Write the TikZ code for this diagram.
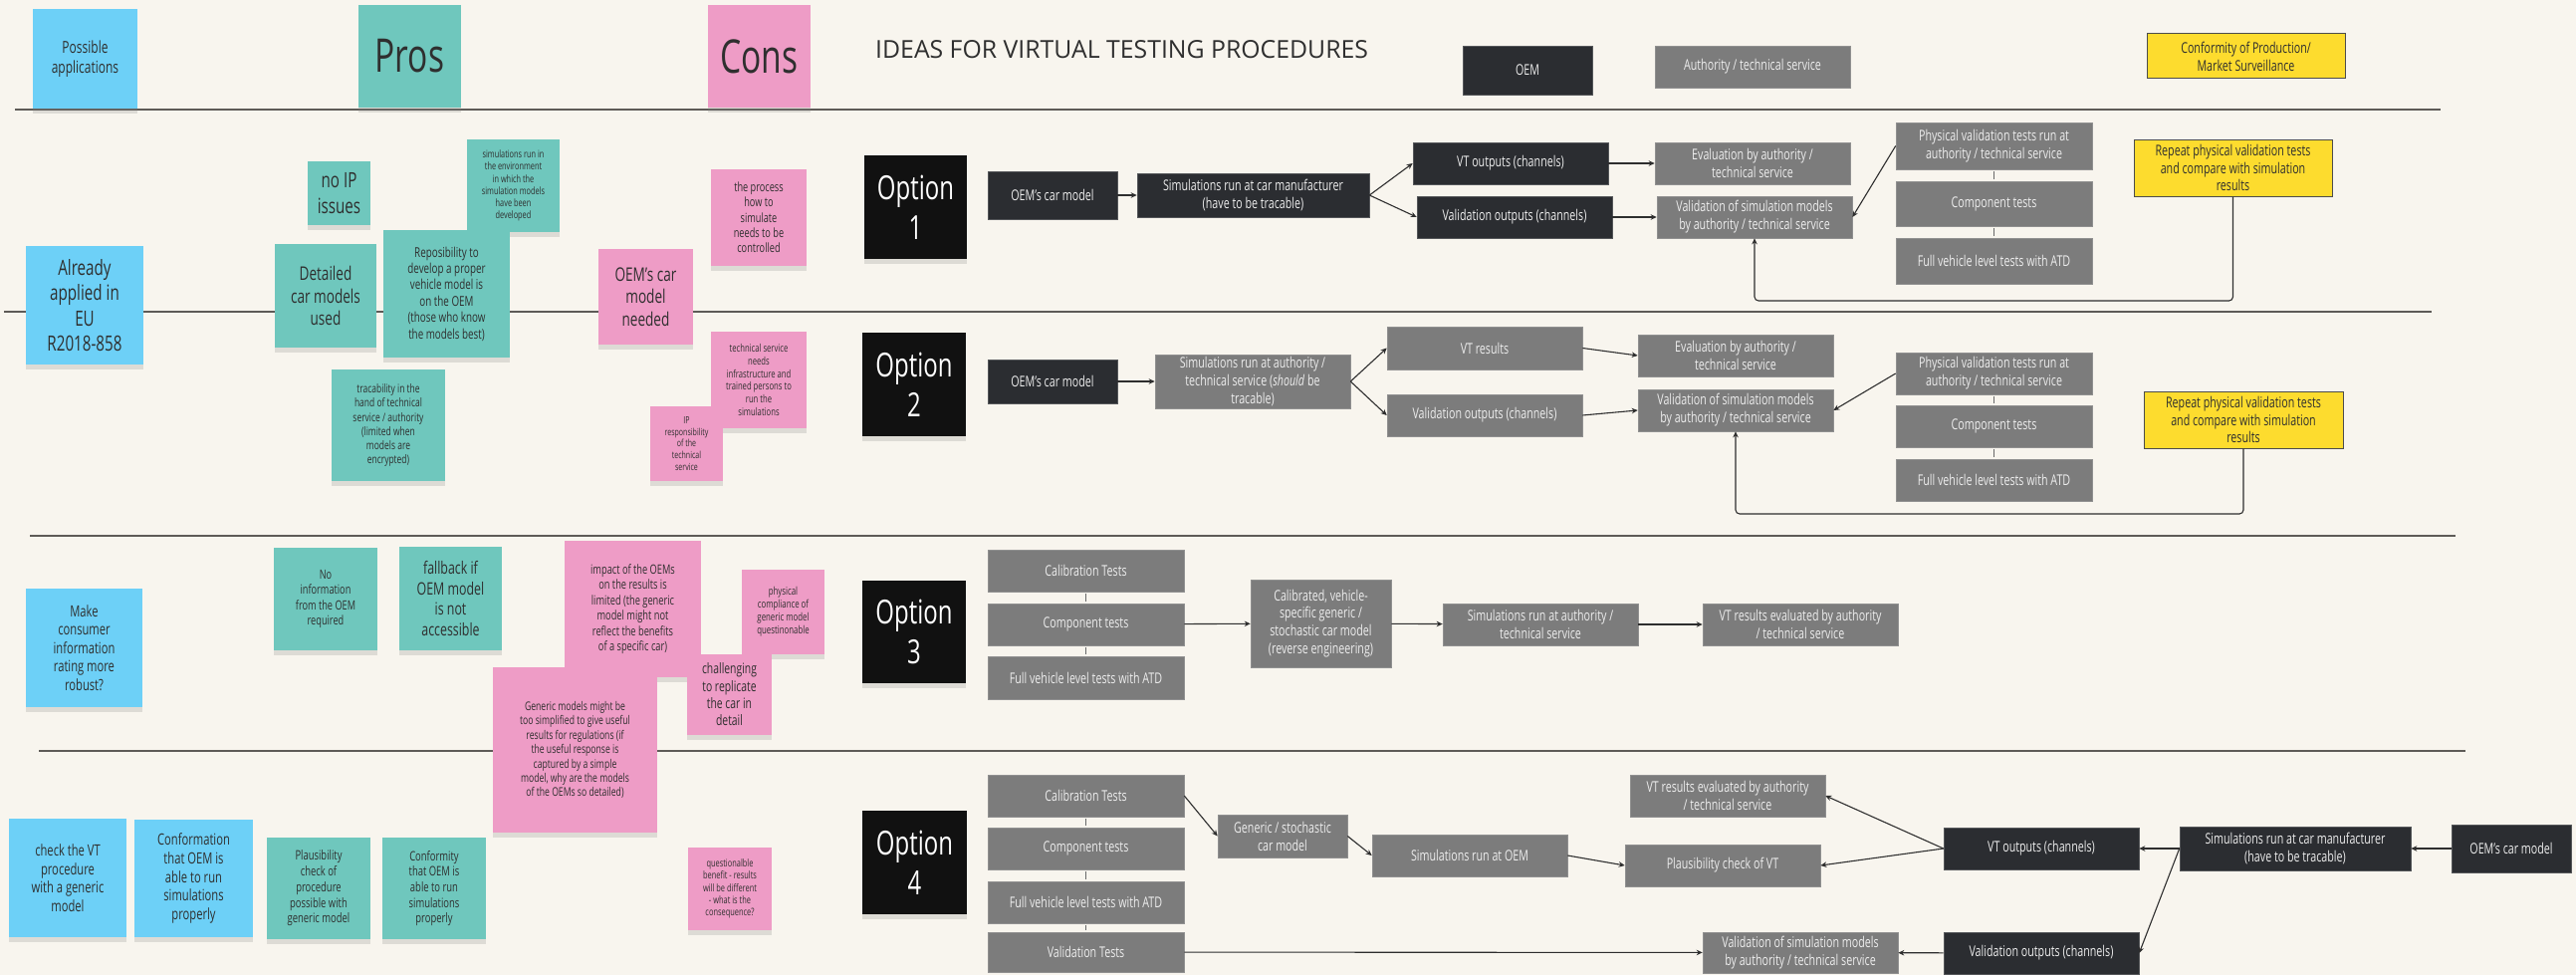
\documentclass[tikz,border=0pt]{standalone}
\usepackage{fontspec}
\setmainfont{Open Sans}[FakeStretch=0.72]
\newfontfamily\titlefont{Open Sans}
\usetikzlibrary{arrows.meta,shadows,calc}
\definecolor{bgc}{HTML}{F8F5EE}
\definecolor{linec}{HTML}{5E5B57}
\definecolor{arrc}{HTML}{2E2E2E}
\definecolor{darkc}{HTML}{2B2D31}
\definecolor{grayc}{HTML}{7C7C7C}
\definecolor{bluec}{HTML}{6DD0F7}
\definecolor{tealc}{HTML}{6FC7BD}
\definecolor{pinkc}{HTML}{EE9CC6}
\definecolor{yellowc}{HTML}{FDDC2E}
\definecolor{optc}{HTML}{111111}
\definecolor{notetext}{HTML}{2F2F2F}
\definecolor{boxtext}{HTML}{EDEDED}
\newcommand\fsz[1]{\fontsize{\fpeval{round(#1*1.11,2)}}{\fpeval{round(#1*1.11*1.2,2)}}\selectfont}
\newcommand\mkbox[7]{\node[#6, minimum width={(#4-#2)*1pt}, minimum height={(#5-#3)*1pt}] (#1) at ({(#2+#4)/2},{(#3+#5)/2}) {#7};}
\begin{document}
\begin{tikzpicture}[x=1pt,y=-1pt,
  stickynote/.style={inner sep=2pt, align=center, text=notetext, drop shadow={shadow xshift=0pt, shadow yshift=-5pt, opacity=.22}},
  bluen/.style={stickynote, fill=bluec},
  tealn/.style={stickynote, fill=tealc},
  pinkn/.style={stickynote, fill=pinkc},
  optn/.style={stickynote, fill=optc, text=white, font=\fsz{30}},
  dbox/.style={fill=darkc, text=boxtext, align=center, inner sep=2pt, font=\fsz{13.4}, draw=darkc!80!white, line width=.6pt},
  gbox/.style={fill=grayc, text=boxtext, align=center, inner sep=2pt, font=\fsz{13.4}, draw=grayc!85!white, line width=.6pt},
  ybox/.style={fill=yellowc, draw=black!70, line width=1pt, text=notetext, align=center, inner sep=2pt, font=\fsz{13.4}},
  flow/.style={draw=arrc, line width=1.1pt, -{Stealth[length=6pt,width=5.5pt]}},
  stacktick/.style={draw=grayc!85!black, line width=1.5pt, shorten <=2pt, shorten >=2pt},
  sepline/.style={draw=linec, line width=1.6pt}]
\useasboundingbox (0,0) rectangle (2587,979);
\fill[bgc] (0,0) rectangle (2587,979);
% separators
\draw[sepline] (15,110) -- (2451,110);
\draw[sepline] (4,313) -- (2442,313);
\draw[sepline] (30,538) -- (2466,538);
\draw[sepline] (39,754) -- (2476,754);
% header
\mkbox{hPossible}{33}{9}{138}{109}{bluen,font=\fsz{15}}{Possible\\applications}
\mkbox{hPros}{360}{5}{463}{108}{tealn,font=\fsz{42}}{Pros}
\mkbox{hCons}{711}{5}{814}{108}{pinkn,font=\fsz{42}}{Cons}
\node[anchor=west, inner sep=0pt, text=notetext, font=\titlefont\fontsize{24.8}{28}\selectfont] (title) at (879,50) {IDEAS FOR VIRTUAL TESTING PROCEDURES};
\mkbox{hOEM}{1469}{46}{1599}{95}{dbox}{OEM}
\mkbox{hAuth}{1662}{46}{1858}{88}{gbox}{Authority / technical service}
\mkbox{hCoP}{2156}{34}{2355}{79}{ybox}{Conformity of Production/\\Market Surveillance}
% row 1 notes
\mkbox{noIP}{309}{162}{372}{226}{tealn,font=\fsz{19}}{no IP\\issues}
\mkbox{simEnv}{469}{140}{562}{233}{tealn,font=\fsz{9.2}}{simulations run in\\the environment\\in which the\\simulation models\\have been\\developed}
\mkbox{already}{26}{247}{144}{366}{bluen,font=\fsz{19}}{Already\\applied in\\EU\\R2018-858}
\mkbox{detailed}{276}{245}{378}{349}{tealn,font=\fsz{17}}{Detailed\\car models\\used}
\mkbox{repos}{385}{231}{512}{359}{tealn,font=\fsz{12.3}}{Reposibility to\\develop a proper\\vehicle model is\\on the OEM\\(those who know\\the models best)}
\mkbox{oemNeeded}{601}{250}{696}{346}{pinkn,font=\fsz{17}}{OEM's car\\model\\needed}
\mkbox{process}{714}{170}{810}{267}{pinkn,font=\fsz{11.5}}{the process\\how to\\simulate\\needs to be\\controlled}
\mkbox{opt1}{868}{156}{971}{260}{optn}{Option\\1}
% row 1 flow
\mkbox{r1oem}{992}{172}{1122}{220}{dbox}{OEM's car model}
\mkbox{r1sim}{1142}{174}{1375}{218}{dbox}{Simulations run at car manufacturer\\(have to be tracable)}
\mkbox{r1vt}{1419}{143}{1615}{185}{dbox}{VT outputs (channels)}
\mkbox{r1val}{1423}{197}{1619}{239}{dbox}{Validation outputs (channels)}
\mkbox{r1eval}{1662}{143}{1858}{185}{gbox}{Evaluation by authority /\\technical service}
\mkbox{r1valsim}{1664}{197}{1860}{239}{gbox}{Validation of simulation models\\by authority / technical service}
\mkbox{r1phys}{1904}{123}{2101}{170}{gbox}{Physical validation tests run at\\authority / technical service}
\mkbox{r1comp}{1904}{182}{2101}{227}{gbox}{Component tests}
\mkbox{r1full}{1904}{239}{2101}{285}{gbox}{Full vehicle level tests with ATD}
\mkbox{r1rep}{2143}{140}{2342}{197}{ybox}{Repeat physical validation tests\\and compare with simulation\\results}
\coordinate (r1loop) at (0,302);
\draw[flow] (r1oem) -- (r1sim);
\draw[flow] (r1sim.east) -- (r1vt.west);
\draw[flow] (r1sim.east) -- (r1val.west);
\draw[flow] (r1vt) -- (r1eval);
\draw[flow] (r1val) -- (r1valsim);
\draw[flow] (r1phys.west) -- (r1valsim.east);
\draw[stacktick] (r1phys) -- (r1comp);
\draw[stacktick] (r1comp) -- (r1full);
\draw[flow, rounded corners=4pt] (r1rep.south) |- (r1valsim.south |- r1loop) -- (r1valsim.south);
% row 2 notes
\mkbox{trac}{333}{371}{447}{483}{tealn,font=\fsz{10.6}}{tracability in the\\hand of technical\\service / authority\\(limited when\\models are\\encrypted)}
\mkbox{techNeeds}{714}{333}{810}{430}{pinkn,font=\fsz{9.6}}{technical service\\needs\\infrastructure and\\trained persons to\\run the\\simulations}
\mkbox{ipResp}{653}{408}{726}{483}{pinkn,font=\fsz{8.8}}{IP\\responsibility\\of the\\technical\\service}
\mkbox{opt2}{866}{334}{970}{438}{optn}{Option\\2}
% row 2 flow
\mkbox{r2oem}{992}{361}{1122}{405}{dbox}{OEM's car model}
\mkbox{r2sim}{1160}{356}{1356}{410}{gbox}{Simulations run at authority /\\technical service (\textit{should} be\\tracable)}
\mkbox{r2vt}{1393}{328}{1589}{371}{gbox}{VT results}
\mkbox{r2val}{1393}{396}{1589}{438}{gbox}{Validation outputs (channels)}
\mkbox{r2eval}{1645}{336}{1841}{378}{gbox}{Evaluation by authority /\\technical service}
\mkbox{r2valsim}{1645}{391}{1841}{433}{gbox}{Validation of simulation models\\by authority / technical service}
\mkbox{r2phys}{1904}{354}{2101}{396}{gbox}{Physical validation tests run at\\authority / technical service}
\mkbox{r2comp}{1904}{407}{2101}{449}{gbox}{Component tests}
\mkbox{r2full}{1904}{461}{2101}{503}{gbox}{Full vehicle level tests with ATD}
\mkbox{r2rep}{2153}{393}{2353}{450}{ybox}{Repeat physical validation tests\\and compare with simulation\\results}
\coordinate (r2loop) at (0,516);
\draw[flow] (r2oem) -- (r2sim);
\draw[flow] (r2sim.east) -- (r2vt.west);
\draw[flow] (r2sim.east) -- (r2val.west);
\draw[flow] (r2vt.east) -- (r2eval.west);
\draw[flow] (r2val.east) -- (r2valsim.west);
\draw[flow] (r2phys.west) -- (r2valsim.east);
\draw[stacktick] (r2phys) -- (r2comp);
\draw[stacktick] (r2comp) -- (r2full);
\draw[flow, rounded corners=4pt] (r2rep.south) |- (r2valsim.south |- r2loop) -- (r2valsim.south);
% row 3 notes
\mkbox{consumer}{26}{591}{143}{710}{bluen,font=\fsz{14}}{Make\\consumer\\information\\rating more\\robust?}
\mkbox{noInfo}{275}{550}{379}{653}{tealn,font=\fsz{11.5}}{No\\information\\from the OEM\\required}
\mkbox{fallback}{401}{549}{504}{653}{tealn,font=\fsz{15.5}}{fallback if\\OEM model\\is not\\accessible}
\mkbox{impact}{567}{543}{704}{680}{pinkn,font=\fsz{11.6}}{impact of the OEMs\\on the results is\\limited (the generic\\model might not\\reflect the benefits\\of a specific car)}
\mkbox{physComp}{745}{572}{828}{657}{pinkn,font=\fsz{9.8}}{physical\\compliance of\\generic model\\questinonable}
\mkbox{generic}{495}{670}{660}{836}{pinkn,font=\fsz{10.8}}{Generic models might be\\too simplified to give useful\\results for regulations (if\\the useful response is\\captured by a simple\\model, why are the models\\of the OEMs so detailed)}
\mkbox{challenging}{690}{657}{775}{738}{pinkn,font=\fsz{13}}{challenging\\to replicate\\the car in\\detail}
\mkbox{opt3}{866}{583}{970}{686}{optn}{Option\\3}
% row 3 flow
\mkbox{r3cal}{992}{552}{1189}{594}{gbox}{Calibration Tests}
\mkbox{r3comp}{992}{606}{1189}{648}{gbox}{Component tests}
\mkbox{r3full}{992}{659}{1189}{702}{gbox}{Full vehicle level tests with ATD}
\mkbox{r3calib}{1256}{582}{1397}{670}{gbox}{Calibrated, vehicle-\\specific generic /\\stochastic car model\\(reverse engineering)}
\mkbox{r3sim}{1449}{606}{1645}{648}{gbox}{Simulations run at authority /\\technical service}
\mkbox{r3vt}{1710}{606}{1906}{648}{gbox}{VT results evaluated by authority\\/ technical service}
\draw[stacktick] (r3cal) -- (r3comp);
\draw[stacktick] (r3comp) -- (r3full);
\draw[flow] (r3comp) -- (r3calib);
\draw[flow] (r3calib) -- (r3sim);
\draw[flow] (r3sim) -- (r3vt);
% row 4 notes
\mkbox{checkVT}{9}{822}{127}{941}{bluen,font=\fsz{14}}{check the VT\\procedure\\with a generic\\model}
\mkbox{conformation}{135}{823}{254}{941}{bluen,font=\fsz{14}}{Conformation\\that OEM is\\able to run\\simulations\\properly}
\mkbox{plaus}{268}{841}{372}{943}{tealn,font=\fsz{11.8}}{Plausibility\\check of\\procedure\\possible with\\generic model}
\mkbox{conformity}{384}{841}{488}{943}{tealn,font=\fsz{11.8}}{Conformity\\that OEM is\\able to run\\simulations\\properly}
\mkbox{questionable}{691}{851}{775}{934}{pinkn,font=\fsz{9.3}}{questionalble\\benefit - results\\will be different\\- what is the\\consequence?}
\mkbox{opt4}{866}{814}{971}{918}{optn}{Option\\4}
% row 4 flow
\mkbox{r4cal}{992}{778}{1189}{820}{gbox}{Calibration Tests}
\mkbox{r4comp}{992}{831}{1189}{873}{gbox}{Component tests}
\mkbox{r4full}{992}{885}{1189}{927}{gbox}{Full vehicle level tests with ATD}
\mkbox{r4valt}{992}{936}{1189}{976}{gbox}{Validation Tests}
\mkbox{r4gen}{1223}{818}{1353}{861}{gbox}{Generic / stochastic\\car model}
\mkbox{r4sim}{1378}{838}{1574}{880}{gbox}{Simulations run at OEM}
\mkbox{r4vtres}{1637}{778}{1833}{820}{gbox}{VT results evaluated by authority\\/ technical service}
\mkbox{r4plaus}{1632}{848}{1828}{890}{gbox}{Plausibility check of VT}
\mkbox{r4valsim}{1710}{936}{1906}{977}{gbox}{Validation of simulation models\\by authority / technical service}
\mkbox{r4vtout}{1952}{831}{2148}{873}{dbox}{VT outputs (channels)}
\mkbox{r4valout}{1952}{936}{2148}{978}{dbox}{Validation outputs (channels)}
\mkbox{r4sim2}{2189}{830}{2421}{874}{dbox}{Simulations run at car manufacturer\\(have to be tracable)}
\mkbox{r4oem}{2462}{828}{2582}{876}{dbox}{OEM's car model}
\draw[stacktick] (r4cal) -- (r4comp);
\draw[stacktick] (r4comp) -- (r4full);
\draw[stacktick] (r4full) -- (r4valt);
\draw[flow] (r4cal.east) -- (r4gen.west);
\draw[flow] (r4gen.east) -- (r4sim.west);
\draw[flow] (r4sim.east) -- (r4plaus.west);
\draw[flow] (r4valt) -- (r4valsim);
\draw[flow] (r4oem) -- (r4sim2);
\draw[flow] (r4sim2.west) -- (r4vtout.east);
\draw[flow] (r4sim2.west) -- (r4valout.east);
\draw[flow] (r4vtout.west) -- (r4vtres.east);
\draw[flow] (r4vtout.west) -- (r4plaus.east);
\draw[flow] (r4valout) -- (r4valsim);
\end{tikzpicture}
\end{document}
